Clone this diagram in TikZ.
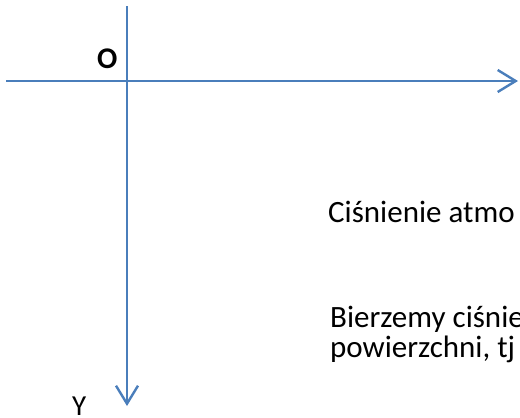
\documentclass[tikz,border=0pt]{standalone}
\usepackage{fontspec}
\setmainfont{Carlito}
\usetikzlibrary{arrows.meta}
\definecolor{axisblue}{HTML}{4A7EBB}
\tikzset{
  axis/.style={draw=axisblue, line width=2.4pt, -{Straight Barb[length=18pt,width=22pt,line width=2.4pt]}},
  label/.style={inner sep=0pt, anchor=base west, font=\fontsize{31}{31}\selectfont, text=black},
}
\begin{document}
\begin{tikzpicture}[x=1pt,y=-1pt]
\useasboundingbox (0,0) rectangle (520,418);
\coordinate (xs) at (6,81);
\coordinate (xe) at (518,81);
\coordinate (ys) at (127,6);
\coordinate (ye) at (127,406);
\draw[axis] (xs) -- (xe);
\draw[axis] (ys) -- (ye);
\node[label, font=\fontsize{30}{30}\selectfont\bfseries] (o) at (97,68) {O};
\node[label, font=\fontsize{29}{29}\selectfont] (y) at (72,415) {Y};
\node[label] (t1) at (328,222) {Ciśnienie atmo};
\node[label] (t2) at (330,327) {Bierzemy ciśnie};
\node[label] (t3) at (330,357) {powierzchni, tj};
\end{tikzpicture}
\end{document}
